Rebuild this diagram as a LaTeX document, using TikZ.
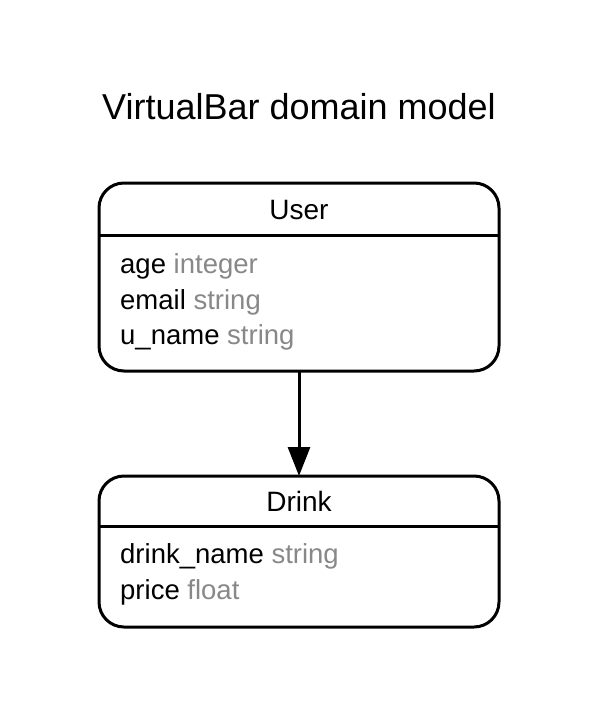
\documentclass[tikz,border=0pt]{standalone}
\usepackage{fontspec}
\setmainfont{Liberation Sans}
\usetikzlibrary{arrows.meta}
\definecolor{attrgray}{RGB}{136,136,136}
\begin{document}
\begin{tikzpicture}[x=1pt,y=-1pt,
  entity/.style={draw=black,line width=3pt,rounded corners=25pt,minimum width=400pt,inner sep=0pt,outer sep=0pt},
  ttl/.style={inner sep=0pt,anchor=base,font=\fontsize{36}{40}\selectfont},
  ename/.style={inner sep=0pt,anchor=base,font=\fontsize{28}{32}\selectfont},
  attr/.style={inner sep=0pt,anchor=base west,font=\fontsize{27.5}{32}\selectfont},
  sep/.style={line width=3pt},
  rel/.style={line width=3pt,-{Triangle[length=29pt,width=22pt]}}]
\useasboundingbox (0,0) rectangle (600,709);
\node[ttl] (title) at (299,119) {VirtualBar domain model};
% User
\node[entity,minimum height=188pt] (user) at (299,277) {};
\coordinate (us1) at (99,235);
\coordinate (us2) at (499,235);
\draw[sep] (us1) -- (us2);
\node[ename] (username) at (299,219.5) {User};
\node[attr] (uage) at (120,273.3) {age \textcolor{attrgray}{integer}};
\node[attr] (uemail) at (120,309) {email \textcolor{attrgray}{string}};
\node[attr] (uname) at (120,344.5) {u\_name \textcolor{attrgray}{string}};
% Drink
\node[entity,minimum height=151pt] (drink) at (299,551.5) {};
\coordinate (ds1) at (99,526.5);
\coordinate (ds2) at (499,526.5);
\draw[sep] (ds1) -- (ds2);
\node[ename] (drinkname) at (299,511.5) {Drink};
\node[attr] (dname) at (120,563.3) {drink\_name \textcolor{attrgray}{string}};
\node[attr] (dprice) at (120,599.3) {price \textcolor{attrgray}{float}};
% relation
\draw[rel] (user.south) -- (drink.north);
\end{tikzpicture}
\end{document}
